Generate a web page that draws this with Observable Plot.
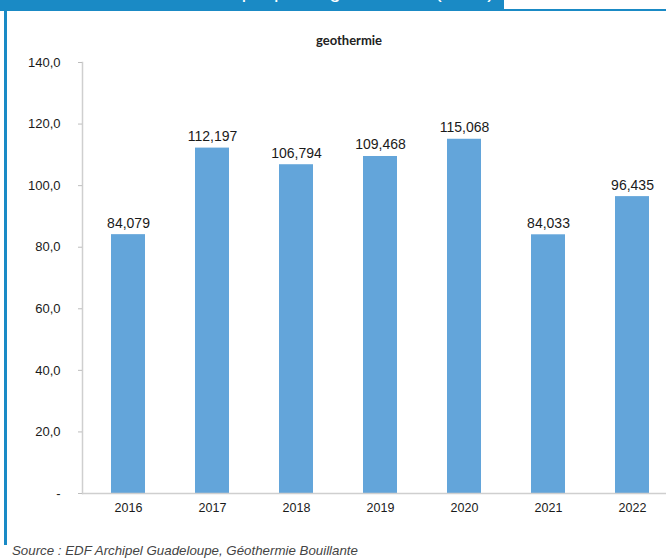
<!DOCTYPE html>
<html>
<head>
<meta charset="utf-8">
<script src="https://cdn.jsdelivr.net/npm/d3@7"></script>
<script src="https://cdn.jsdelivr.net/npm/@observablehq/plot@0.6"></script>
<style>
  html, body { margin: 0; padding: 0; background: #fff; }
  #wrap { position: relative; width: 666px; height: 560px; overflow: hidden; background: #fff; font-family: "Liberation Sans", Arial, sans-serif; }
  #hdr { position: absolute; left: 0; top: 0; width: 504px; height: 11px; background: #1a8ac5; overflow: hidden; }
  #hdr span { position: absolute; right: 10px; top: -19px; font-size: 20px; line-height: 20px; color: #fff; white-space: nowrap; }
  #hline { position: absolute; left: 0; top: 9px; width: 666px; height: 2px; background: #1a8ac5; }
  #lborder { position: absolute; left: 4px; top: 10px; width: 3px; height: 535px; background: #1a8ac5; }
  #chart { position: absolute; left: 0; top: 0; }
  #title { position: absolute; left: 249px; width: 200px; top: 32px; text-align: center; font-family: Lato, "Open Sans", sans-serif; font-weight: 700; font-size: 13px; color: #222; }
  #source { position: absolute; left: 12px; top: 543px; font-style: italic; font-size: 13.3px; color: #444; white-space: nowrap; }
</style>
</head>
<body>
<div id="wrap">
  <div id="chart"></div>
  <div id="hdr"><span>Production électrique par la géothermie (GWh)</span></div>
  <div id="hline"></div>
  <div id="lborder"></div>
  <div id="title">geothermie</div>
  <div id="source">Source : EDF Archipel Guadeloupe, Géothermie Bouillante</div>
</div>
<script>
const years = ["2016", "2017", "2018", "2019", "2020", "2021", "2022"];
const values = [84.079, 112.197, 106.794, 109.468, 115.068, 84.033, 96.435];
const yTicks = [0, 20, 40, 60, 80, 100, 120, 140];
const yTickLabels = ["-", "20,0", "40,0", "60,0", "80,0", "100,0", "120,0", "140,0"];

const data = years.map((year, i) => ({year, value: values[i]}));
const fmt = v => v.toFixed(3).replace(".", ",");

const chart = Plot.plot({
  width: 666,
  height: 530,
  marginTop: 62,
  marginBottom: 37,
  marginLeft: 82,
  marginRight: 0,
  style: {fontFamily: "'Liberation Sans', Arial, sans-serif", color: "#1a1a1a", background: "transparent"},
  x: {type: "band", domain: years, range: [84, 676], paddingInner: 0.6, paddingOuter: 0.3},
  y: {domain: [0, 140]},
  marks: [
    Plot.frame({anchor: "left", stroke: "#cfcfcf", strokeWidth: 1.5}),
    Plot.barY(data, {x: "year", y: "value", fill: "#63a5da"}),
    Plot.ruleY([0], {stroke: "#cfcfcf", strokeWidth: 1.5}),
    Plot.text(data, {x: "year", y: "value", text: d => fmt(d.value), lineAnchor: "bottom", dy: -7, fontSize: 14, fill: "#1a1a1a"}),
    Plot.axisY(yTicks, {tickSize: 4, tickPadding: 18, stroke: "#bdbdbd", fill: "#1a1a1a", fontSize: 13, tickFormat: d => yTickLabels[yTicks.indexOf(d)], label: null}),
    Plot.axisX({tickSize: 0, tickPadding: 10, fontSize: 12.5, fill: "#1a1a1a", label: null})
  ]
});
document.getElementById("chart").appendChild(chart);
</script>
</body>
</html>
